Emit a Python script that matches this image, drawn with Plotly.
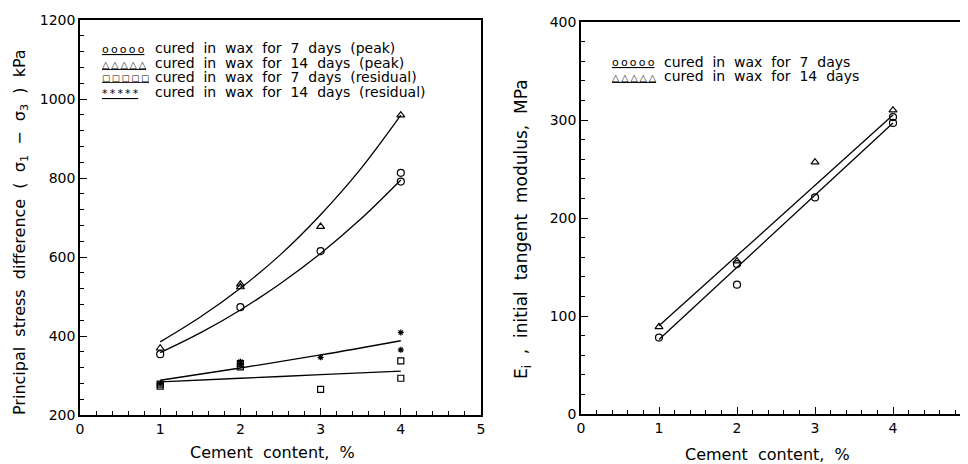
import plotly.graph_objects as go

# ---------------- data: left panel (principal stress difference, kPa) ----------------
x_7p = [1, 2, 3, 4, 4]
y_7p = [354, 473, 615, 813, 791]
x_14p = [1, 2, 2, 3, 4]
y_14p = [369, 524, 531, 677, 959]
x_7r = [1, 1, 2, 2, 3, 4, 4]
y_7r = [273, 278, 322, 330, 265, 337, 293]
x_14r = [1, 2, 2, 3, 4, 4]
y_14r = [279, 327, 335, 346, 409, 365]

fit_peak_x = [1, 1.5, 2, 2.5, 3, 3.5, 4]
fit_14p = [385, 448, 521, 606, 707, 823, 959]
fit_7p = [358, 408, 466, 533, 609, 696, 795]
fit_res_x = [1, 2, 3, 4]
fit_14r = [288, 319, 352, 388]
fit_7r = [284, 293, 302, 311]

# ---------------- data: right panel (initial tangent modulus, MPa) ----------------
x_7e = [1, 2, 2, 3, 4, 4]
y_7e = [78, 132, 153, 221, 297, 303]
x_14e = [1, 2, 3, 4]
y_14e = [89, 156, 257, 310]
fit_e_x = [1, 4]
fit_14e = [90, 305]
fit_7e = [76, 297]

left_yticks = [200, 400, 600, 800, 1000, 1200]
right_yticks = [0, 100, 200, 300, 400]
left_xticks = [0, 1, 2, 3, 4, 5]
right_xticks = [0, 1, 2, 3, 4]

FONT = "DejaVu Sans"
W, H = 968, 464
OFF = 8  # page offset of the plot div


def fx(px):
    return (px - OFF) / W


def fy(py):
    return 1 - (py - OFF) / H


fig = go.Figure()

line_style = dict(color="black", width=1.3)


def add_line(x, y, xa, ya, shape="linear"):
    fig.add_trace(go.Scatter(x=x, y=y, mode="lines", line=dict(line_style, shape=shape),
                             xaxis=xa, yaxis=ya, showlegend=False, hoverinfo="skip"))


def add_pts(x, y, xa, ya, symbol, size):
    fig.add_trace(go.Scatter(x=x, y=y, mode="markers",
                             marker=dict(symbol=symbol, size=size, color="black",
                                         line=dict(color="black", width=1.2)),
                             xaxis=xa, yaxis=ya, showlegend=False))


# left panel
add_line(fit_peak_x, fit_14p, "x", "y", "spline")
add_line(fit_peak_x, fit_7p, "x", "y", "spline")
add_line(fit_res_x, fit_14r, "x", "y", "spline")
add_line(fit_res_x, fit_7r, "x", "y", "spline")
add_pts(x_7p, y_7p, "x", "y", "circle-open", 7)
add_pts(x_14p, y_14p, "x", "y", "triangle-up-open", 7)
add_pts(x_7r, y_7r, "x", "y", "square-open", 6)
add_pts(x_14r, y_14r, "x", "y", "asterisk-open", 5)

# right panel
add_line(fit_e_x, fit_14e, "x2", "y2")
add_line(fit_e_x, fit_7e, "x2", "y2")
add_pts(x_7e, y_7e, "x2", "y2", "circle-open", 7)
add_pts(x_14e, y_14e, "x2", "y2", "triangle-up-open", 7)

tickfont = dict(family=FONT, size=14, color="black")


def xaxis_cfg(domain, rng, vals, anchor):
    return dict(domain=domain, range=rng, tickvals=vals, ticktext=[str(v) for v in vals],
                ticks="inside", ticklen=7, tickwidth=1.3, tickcolor="black",
                showline=True, linecolor="black", linewidth=1.6, mirror=True,
                showgrid=False, zeroline=False, tickfont=tickfont, automargin=False,
                anchor=anchor,
                minor=dict(ticks="inside", ticklen=4, tickwidth=1, tickcolor="black",
                           dtick=0.2, tick0=0, showgrid=False))


def yaxis_cfg(domain, rng, vals, mdt, anchor):
    return dict(domain=domain, range=rng, tickvals=vals, ticktext=[str(v) for v in vals],
                ticks="inside", ticklen=7, tickwidth=1.3, tickcolor="black",
                showline=True, linecolor="black", linewidth=1.6, mirror=True,
                showgrid=False, zeroline=False, tickfont=tickfont, anchor=anchor,
                automargin=False,
                minor=dict(ticks="inside", ticklen=4, tickwidth=1, tickcolor="black",
                           dtick=mdt, tick0=0, showgrid=False))


fig.update_layout(
    width=W, height=H,
    margin=dict(l=0, r=0, t=0, b=0, pad=0, autoexpand=False),
    paper_bgcolor="white", plot_bgcolor="white",
    font=dict(family=FONT, color="black"),
    showlegend=False,
    xaxis=xaxis_cfg([fx(80), fx(481)], [0, 5], left_xticks, "y"),
    yaxis=yaxis_cfg([fy(415), fy(20)], [200, 1200], left_yticks, 40, "x"),
    xaxis2=xaxis_cfg([fx(581), fx(971)], [0, 5], right_xticks, "y2"),
    yaxis2=yaxis_cfg([fy(414), fy(22)], [0, 400], right_yticks, 20, "x2"),
)

sp = "&nbsp;"


def spaced(words):
    return (sp + " ").join(words)


annos = []
# axis titles
annos.append(dict(x=fx(20), y=fy(232), textangle=-90,
                  text=spaced(["Principal", "stress", "difference", "(", "σ<sub>1</sub>", "−",
                               "σ<sub>3</sub>", ")", "kPa"]),
                  font=dict(family=FONT, size=16)))
annos.append(dict(x=fx(272), y=fy(452),
                  text=spaced(["Cement", "content,", "%"]), font=dict(family=FONT, size=16)))
annos.append(dict(x=fx(523), y=fy(229), textangle=-90,
                  text=spaced(["E<sub>i</sub>", ",", "initial", "tangent", "modulus,", "MPa"]),
                  font=dict(family=FONT, size=17)))
annos.append(dict(x=fx(767), y=fy(454),
                  text=spaced(["Cement", "content,", "%"]), font=dict(family=FONT, size=16)))

TS = "\u2009"
# legend-like keys (text): glyph row + label
left_keys = [
    ("o", 11, ["cured", "in", "wax", "for", "7", "days", "(peak)"], 48),
    ("△", 9.5, ["cured", "in", "wax", "for", "14", "days", "(peak)"], 63),
    ("□", 8.5, ["cured", "in", "wax", "for", "7", "days", "(residual)"], 77),
    ("*", 11, ["cured", "in", "wax", "for", "14", "days", "(residual)"], 92),
]
right_keys = [
    ("o", 11, ["cured", "in", "wax", "for", "7", "days"], 62),
    ("△", 9.5, ["cured", "in", "wax", "for", "14", "days"], 76),
]
for keys, gx, tx in [(left_keys, 100, 153), (right_keys, 610, 662)]:
    for glyph, gsize, words, ypx in keys:
        annos.append(dict(x=fx(gx), y=fy(ypx + 1), xanchor="left",
                          text="<u>" + TS.join([glyph] * 5) + "</u>",
                          font=dict(family=FONT, size=gsize)))
        annos.append(dict(x=fx(tx), y=fy(ypx), xanchor="left",
                          text=spaced(words), font=dict(family=FONT, size=14)))

for a in annos:
    a.setdefault("xanchor", "center")
    a.update(xref="paper", yref="paper", showarrow=False, yanchor="middle")
fig.update_layout(annotations=annos)

fig.write_html("out.html")
